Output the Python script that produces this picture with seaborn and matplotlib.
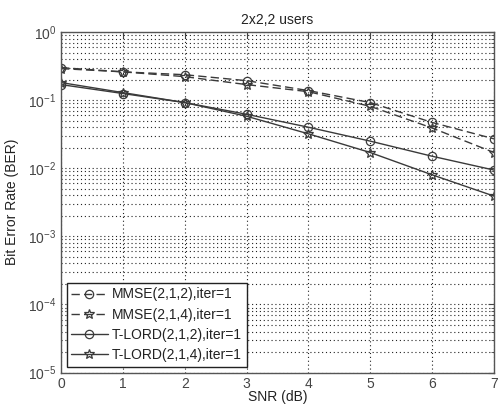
import matplotlib
matplotlib.use("Agg")
import matplotlib.pyplot as plt
import matplotlib.ticker as mticker
import seaborn as sns
import pandas as pd

snr = [0, 1, 2, 3, 4, 5, 6, 7]
mmse_212 = [0.30, 0.26, 0.236, 0.193, 0.138, 0.092, 0.047, 0.027]
mmse_214 = [0.29, 0.26, 0.221, 0.169, 0.133, 0.081, 0.039, 0.017]
tlord_212 = [0.169, 0.125, 0.092, 0.062, 0.040, 0.025, 0.015, 0.0094]
tlord_214 = [0.181, 0.129, 0.092, 0.058, 0.032, 0.017, 0.0080, 0.0039]
labels = ["MMSE(2,1,2),iter=1", "MMSE(2,1,4),iter=1",
          "T-LORD(2,1,2),iter=1", "T-LORD(2,1,4),iter=1"]
title = "2x2,2 users"
xlabel = "SNR (dB)"
ylabel = "Bit Error Rate (BER)"

sns.set_style("white")
plt.rcParams['font.family'] = ['Liberation Sans', 'DejaVu Sans']
plt.rcParams['mathtext.fontset'] = 'custom'
plt.rcParams['mathtext.rm'] = 'Liberation Sans'
plt.rcParams['mathtext.it'] = 'Liberation Sans'

fig = plt.figure(figsize=(5.0, 4.05), dpi=100)
ax = fig.add_axes([0.122, 0.08, 0.866, 0.841])

series = [mmse_212, mmse_214, tlord_212, tlord_214]
styles = [((0, (6, 3)), "o"), ((0, (6, 3)), "*"), ("-", "o"), ("-", "*")]
lc = "#3a3a3a"
for vals, lab, (ls, mk) in zip(series, labels, styles):
    df = pd.DataFrame({"snr": snr, "ber": vals})
    sns.lineplot(data=df, x="snr", y="ber", ax=ax, label=lab,
                 color=lc, linestyle=ls, marker=mk,
                 markersize=6 if mk == "o" else 7, markerfacecolor="none",
                 markeredgecolor=lc, markeredgewidth=0.9, linewidth=1.0)

ax.set_yscale("log")
ax.set_xlim(0, 7)
ax.set_ylim(1e-5, 1)
ax.set_xticks(snr)
ax.xaxis.set_minor_locator(mticker.NullLocator())
ax.yaxis.set_minor_locator(mticker.LogLocator(base=10, subs=range(2, 10), numticks=20))
ax.yaxis.set_minor_formatter(mticker.NullFormatter())

ax.grid(True, which="major", axis="both", linestyle=(0, (1, 2.5)), color="#222222", linewidth=0.8)
ax.grid(True, which="minor", axis="y", linestyle=(0, (1, 2.5)), color="#222222", linewidth=0.8)
ax.xaxis.grid(False, which="minor")

ax.tick_params(axis="both", which="both", direction="in", top=True, right=True,
               colors="#444444", labelcolor="#444444", labelsize=10)
ax.tick_params(which="major", length=4)
ax.tick_params(which="minor", length=2)
for sp in ax.spines.values():
    sp.set_color("#555555")
    sp.set_linewidth(1.0)

ax.set_title(title, fontsize=10, color="#222222", pad=6)
ax.set_xlabel(xlabel, fontsize=10, color="#222222", labelpad=-1)
ax.set_ylabel(ylabel, fontsize=10, color="#222222", labelpad=6)

leg = ax.legend(loc="lower left", fontsize=10, frameon=True, fancybox=False,
                edgecolor="#222222", framealpha=1, handlelength=2.6,
                borderpad=0.35, labelspacing=0.45, handletextpad=0.3,
                borderaxespad=0.4)
leg.get_frame().set_linewidth(1.0)
for t in leg.get_texts():
    t.set_color("#222222")

fig.savefig("out.png", dpi=100, facecolor="white")
